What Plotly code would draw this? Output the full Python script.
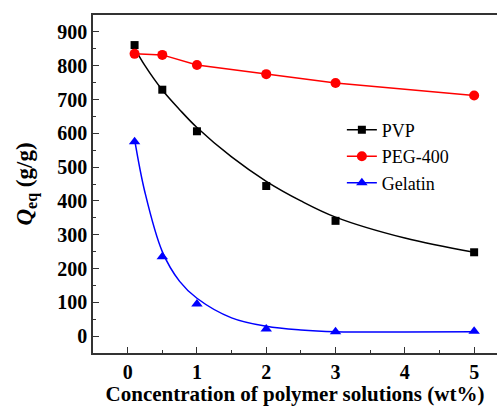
import plotly.graph_objects as go

conc = [0.1, 0.5, 1, 2, 3, 5]
pvp = [861, 729, 606, 444, 341, 248]
peg = [835, 832, 802, 775, 749, 712]
gelatin = [575, 235, 95, 21, 13, 14]

# fitted curves
fit_x = [0.1, 0.25, 0.5, 0.75, 1, 1.5, 2, 2.5, 3, 4, 5]
pvp_fit = [852, 800, 728, 670, 617, 530, 458, 400, 352, 290, 248]
gel_fit = [582, 425, 250, 162, 112, 54, 29, 18, 13, 12, 13]

x_ticks = [0, 1, 2, 3, 4, 5]
y_ticks = [0, 100, 200, 300, 400, 500, 600, 700, 800, 900]

series_names = ["PVP", "PEG-400", "Gelatin"]
colors = ["black", "red", "blue"]
symbols = ["square", "circle", "triangle-up"]
sizes = [8, 10, 10]

serif = "Liberation Serif"

fig = go.Figure()
fig.add_trace(go.Scatter(x=fit_x, y=pvp_fit, mode="lines", line=dict(color="black", width=1.5, shape="spline"),
                         showlegend=False, hoverinfo="skip"))
fig.add_trace(go.Scatter(x=fit_x, y=gel_fit, mode="lines", line=dict(color="blue", width=1.5, shape="spline"),
                         showlegend=False, hoverinfo="skip"))
fig.add_trace(go.Scatter(x=conc, y=pvp, mode="markers", showlegend=False,
                         marker=dict(symbol=symbols[0], size=sizes[0], color=colors[0])))
fig.add_trace(go.Scatter(x=conc, y=peg, mode="lines+markers", showlegend=False,
                         marker=dict(symbol=symbols[1], size=sizes[1], color=colors[1]),
                         line=dict(color=colors[1], width=1.5)))
fig.add_trace(go.Scatter(x=conc, y=gelatin, mode="markers", showlegend=False,
                         marker=dict(symbol=symbols[2], size=sizes[2], color=colors[2])))
for nm, c, s, sz in zip(series_names, colors, symbols, sizes):
    fig.add_trace(go.Scatter(x=[None], y=[None], mode="lines+markers", name=nm,
                             marker=dict(symbol=s, size=sz, color=c), line=dict(color=c, width=1.5)))

axis_common = dict(showgrid=False, zeroline=False, showline=True, linecolor="#333", linewidth=1.5,
                   ticks="inside", tickcolor="#333", ticklen=6, tickwidth=1.2,
                   tickfont=dict(family=serif, size=20, color="black"))

fig.update_layout(
    width=497, height=406,
    margin=dict(l=93, r=0, t=15, b=53),
    plot_bgcolor="white", paper_bgcolor="white",
    font=dict(family=serif),
    xaxis=dict(range=[-0.5, 5.33], tickvals=x_ticks, ticktext=[f"<b>{v}</b>" for v in x_ticks], mirror=True,
               minor=dict(ticks="inside", dtick=0.5, tick0=0, ticklen=3, tickcolor="#333"),
               title=dict(text="<b>Concentration of polymer solutions (wt%)</b>",
                          font=dict(family=serif, size=21, color="black"), standoff=1),
               **axis_common),
    yaxis=dict(range=[-50, 950], tickvals=y_ticks, ticktext=[f"<b>{v}</b>" for v in y_ticks], mirror=False,
               minor=dict(ticks="inside", dtick=50, tick0=0, ticklen=3, tickcolor="#333"),
               title=dict(text="<b><i>Q</i><sub>eq</sub> (g/g)</b>",
                          font=dict(family=serif, size=23, color="black"), standoff=18),
               **axis_common),
    legend=dict(x=0.616, y=0.714, xanchor="left", yanchor="top", bgcolor="rgba(0,0,0,0)",
                font=dict(family=serif, size=18, color="black"), tracegroupgap=0),
    showlegend=True,
)

fig.write_html("out.html")
